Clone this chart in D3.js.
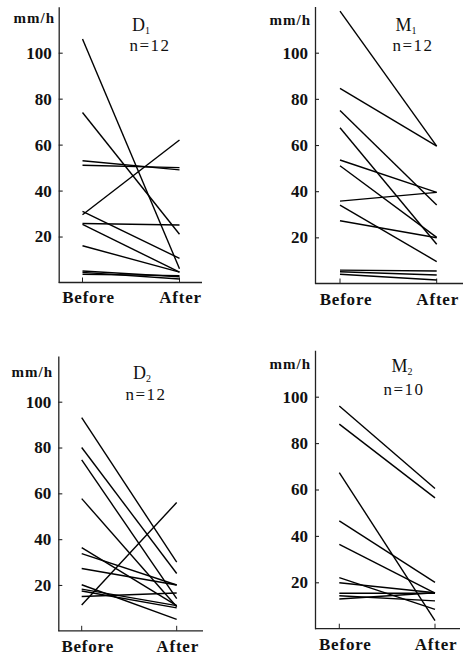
<!DOCTYPE html>
<html><head><meta charset="utf-8">
<script src="https://cdn.jsdelivr.net/npm/d3@7"></script>
<style>
body{margin:0;background:#fff}
svg{display:block;background:#fff}
text{font-family:"Liberation Serif","DejaVu Serif",serif;fill:#111}
</style>
</head><body><svg id="c" width="463" height="658"></svg>
<script>
// ---- data ----
const categories = ["Before", "After"];
const yTicks = [20, 40, 60, 80, 100];
const unitLabel = "mm/h";
const groupNames = ["D", "M", "D", "M"];
const groupSubs = ["1", "1", "2", "2"];
const nLabels = ["n=12", "n=12", "n=12", "n=10"];

const d1Before = [106, 74, 53, 51, 29.5, 31, 25.7, 25.3, 16, 5, 4.4, 3.6];
const d1After  = [6, 21, 49, 50, 62, 10.5, 25, 4.5, 4.5, 2.5, 1.5, 3];
const m1Before = [118, 84.5, 75, 67.5, 53.5, 51, 35.7, 34, 27.2, 5.8, 5.1, 4.0];
const m1After  = [59.5, 59.5, 34, 17, 39.5, 20, 39.5, 9.5, 19.8, 5.4, 3.7, 1.5];
const d2Before = [93, 80, 74.6, 57.7, 36.3, 33.7, 27.2, 20.1, 18.2, 17.4, 15, 11.3];
const d2After  = [30, 25, 14, 10.5, 11, 20, 20, 5, 11, 10, 16.5, 56];
const m2Before = [96, 88.2, 67.3, 46.5, 36.3, 22, 19.8, 15.3, 14.2, 12.8];
const m2After  = [60.4, 56.4, 3.5, 20, 15.3, 8.3, 15.5, 15.3, 12, 15.5];

const beforeSets = [d1Before, m1Before, d2Before, m2Before];
const afterSets  = [d1After, m1After, d2After, m2After];

// ---- layout (positions only) ----
const layouts = [
  {ax:58.7, x0:82.5, x1:179.5, xEnd:202, y0:282.5, y100:52.7, tx:141, ty:31, nx:150, ny:51, ux:55, uy:23, ly:303},
  {ax:315, x0:340, x1:436.7, xEnd:463, y0:283.5, y100:52.7, tx:406, ty:31, nx:413, ny:51, ux:311, uy:25, ly:305},
  {ax:58.3, x0:81.7, x1:176.7, xEnd:203, y0:630.8, y100:401.7, tx:142, ty:379, nx:146, ny:400, ux:53, uy:377, ly:652},
  {ax:315, x0:339.3, x1:435, xEnd:460, y0:628.7, y100:396.7, tx:402, ty:372, nx:404, ny:395, ux:311, uy:369, ly:650}
];
const labelShift = {Before: 6, After: 1};

const svg = d3.select("#c");

layouts.forEach((L, p) => {
  const g = svg.append("g");
  const k = (L.y0 - L.y100) / 100;
  const y = d3.scaleLinear().domain([0, 120]).range([L.y0, L.y0 - 120 * k]);
  const x = d3.scalePoint().domain(categories).range([L.x0, L.x1]);

  // y axis
  const ya = g.append("g").attr("transform", `translate(${L.ax},0)`)
    .call(d3.axisLeft(y).tickValues(yTicks).tickSizeInner(-4).tickSizeOuter(0).tickPadding(7));
  ya.select(".domain").attr("stroke", "#222").attr("stroke-width", 1.3);
  ya.selectAll(".tick line").attr("stroke", "#222").attr("stroke-width", 1.1);
  ya.selectAll(".tick text").attr("font-size", 17).attr("font-family", "Liberation Serif").attr("fill", "#111").attr("font-weight", "bold");

  // x axis
  g.append("line").attr("x1", L.ax).attr("x2", L.xEnd).attr("y1", y(0)).attr("y2", y(0))
    .attr("stroke", "#222").attr("stroke-width", 1.3);
  g.selectAll(".xt").data(categories).join("line")
    .attr("x1", d => x(d)).attr("x2", d => x(d)).attr("y1", y(0)).attr("y2", y(0) - 5)
    .attr("stroke", "#222").attr("stroke-width", 1);
  g.selectAll(".xl").data(categories).join("text")
    .attr("x", d => x(d) + labelShift[d]).attr("y", L.ly)
    .attr("text-anchor", "middle").attr("font-size", 17).attr("font-weight", "bold").attr("letter-spacing", 0.8)
    .text(d => d);

  // unit label
  g.append("text").attr("x", L.ux).attr("y", L.uy).attr("text-anchor", "end")
    .attr("font-size", 15).attr("font-weight", "bold").attr("letter-spacing", 1).text(unitLabel);

  // title
  const t = g.append("text").attr("x", L.tx).attr("y", L.ty).attr("text-anchor", "middle").attr("font-size", 18);
  t.append("tspan").text(groupNames[p]);
  t.append("tspan").attr("font-size", 10).attr("dy", 3).text(groupSubs[p]);
  g.append("text").attr("x", L.nx).attr("y", L.ny).attr("text-anchor", "middle")
    .attr("font-size", 17).attr("letter-spacing", 1.5).text(nLabels[p]);

  // lines
  const b = beforeSets[p], a = afterSets[p];
  const pairs = b.map((v, i) => [[categories[0], v], [categories[1], a[i]]]);
  const line = d3.line().x(d => x(d[0])).y(d => y(d[1]));
  g.selectAll(".pl").data(pairs).join("path")
    .attr("d", line).attr("fill", "none").attr("stroke", "#000").attr("stroke-width", 1.4);
});
</script>
</body></html>
